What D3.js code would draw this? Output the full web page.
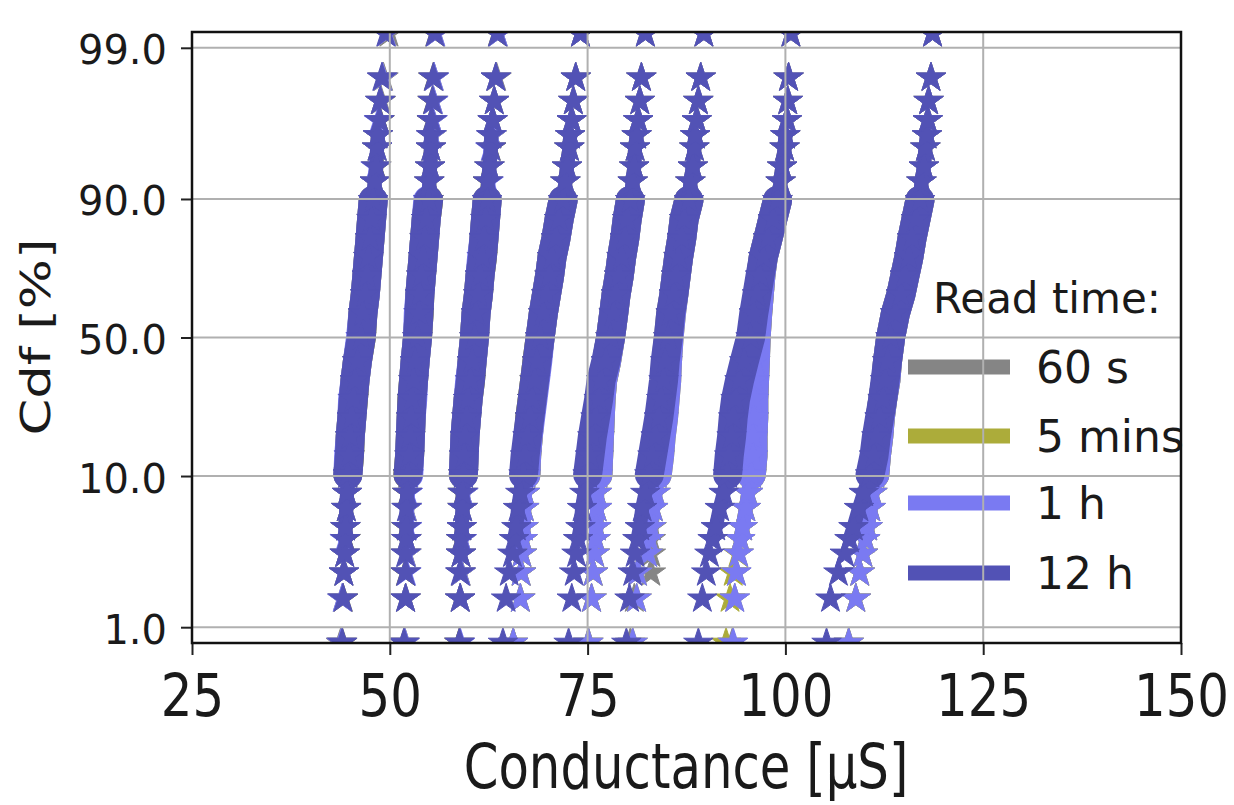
<!DOCTYPE html>
<html>
<head>
<meta charset="utf-8">
<script src="https://cdn.jsdelivr.net/npm/d3@7"></script>
<style>
  html, body { margin: 0; padding: 0; background: #fff; }
  svg text { font-family: "DejaVu Sans", sans-serif; fill: #1a1a1a; }
</style>
</head>
<body>
<div id="chart"></div>
<script>
// cumulative probability levels [%] shared by every state curve
const cdfLevels = [0.78, 1.56, 2.34, 3.13, 3.91, 4.69, 6.25, 7.81, 10.2, 13.3, 17.2, 21.9, 27.3, 33.6, 40.6, 50.0,
  59.4, 66.4, 72.7, 78.1, 82.8, 86.7, 89.8, 92.2, 93.75, 95.3, 96.1, 96.9, 97.7, 98.4, 99.2];

const readTimes = ["60 s", "5 mins", "1 h", "12 h"];
const readColors = ["#858585", "#acac3a", "#7a7af2", "#5252b5"];

// conductance [uS] per programmed state, one value per cdf level
const read60s = [
  [43.8, 44.0, 44.2, 44.3, 44.4, 44.4, 44.5, 44.6, 44.7, 44.9, 45.0, 45.2, 45.4, 45.6, 45.9, 46.4, 46.6, 46.9, 47.1, 47.3, 47.5, 47.7, 47.9, 48.1, 48.3, 48.4, 48.5, 48.7, 48.9, 49.2, 49.9],
  [51.8, 52.0, 52.0, 52.1, 52.1, 52.1, 52.2, 52.2, 52.3, 52.5, 52.6, 52.7, 52.8, 53.0, 53.2, 53.5, 53.7, 53.8, 54.0, 54.2, 54.4, 54.6, 54.9, 55.0, 55.1, 55.2, 55.3, 55.4, 55.5, 55.6, 55.8],
  [58.8, 58.9, 59.0, 59.0, 59.1, 59.1, 59.2, 59.3, 59.3, 59.4, 59.5, 59.7, 59.9, 60.2, 60.4, 60.7, 60.9, 61.2, 61.4, 61.7, 61.9, 62.1, 62.3, 62.4, 62.6, 62.8, 62.9, 63.0, 63.2, 63.5, 63.7],
  [65.6, 66.5, 66.6, 66.7, 66.8, 66.9, 67.0, 67.1, 67.2, 67.3, 67.5, 67.7, 68.0, 68.3, 68.6, 69.0, 69.4, 69.8, 70.2, 70.5, 71.0, 71.4, 71.9, 72.2, 72.4, 72.7, 72.8, 73.0, 73.2, 73.5, 74.1],
  [75.1, 75.5, 75.7, 75.9, 76.0, 76.1, 76.2, 76.2, 76.3, 76.4, 76.5, 76.6, 76.7, 76.9, 77.4, 77.9, 78.3, 78.6, 79.0, 79.3, 79.7, 80.0, 80.4, 80.7, 80.9, 81.0, 81.2, 81.4, 81.6, 81.8, 82.3],
  [80.4, 80.9, 83.0, 83.0, 83.0, 83.1, 83.3, 83.5, 83.7, 84.0, 84.2, 84.4, 84.6, 84.8, 84.9, 85.2, 85.5, 85.9, 86.2, 86.5, 86.9, 87.2, 87.8, 88.0, 88.3, 88.5, 88.6, 88.8, 89.0, 89.3, 89.7],
  [93.3, 93.6, 93.8, 94.1, 94.3, 94.6, 95.0, 95.3, 95.7, 95.9, 95.9, 96.0, 96.0, 96.1, 96.2, 96.3, 96.5, 96.7, 96.9, 97.2, 97.8, 98.4, 99.0, 99.4, 99.6, 99.9, 100.0, 100.2, 100.3, 100.4, 100.7],
  [108.0, 108.9, 109.4, 109.8, 110.1, 110.4, 110.8, 111.0, 111.3, 111.5, 111.8, 112.0, 112.3, 112.7, 112.9, 113.3, 113.9, 114.6, 115.1, 115.6, 116.0, 116.5, 117.0, 117.2, 117.5, 117.7, 117.9, 118.0, 118.1, 118.4, 118.6]
];
const read5min = [
  [44.0, 44.1, 44.2, 44.3, 44.4, 44.4, 44.5, 44.6, 44.7, 44.9, 45.0, 45.2, 45.4, 45.6, 45.9, 46.4, 46.6, 46.9, 47.1, 47.3, 47.5, 47.7, 47.9, 48.1, 48.3, 48.4, 48.5, 48.7, 48.8, 49.1, 49.6],
  [51.9, 52.0, 52.0, 52.1, 52.1, 52.1, 52.2, 52.2, 52.3, 52.5, 52.6, 52.7, 52.8, 53.0, 53.2, 53.5, 53.7, 53.8, 54.0, 54.2, 54.4, 54.6, 54.9, 55.0, 55.1, 55.2, 55.3, 55.3, 55.4, 55.5, 55.7],
  [58.8, 58.9, 59.0, 59.0, 59.0, 59.1, 59.2, 59.2, 59.3, 59.4, 59.5, 59.7, 59.9, 60.2, 60.4, 60.7, 60.9, 61.2, 61.4, 61.7, 61.9, 62.1, 62.3, 62.4, 62.6, 62.8, 62.9, 63.0, 63.2, 63.4, 63.6],
  [65.6, 66.5, 66.6, 66.7, 66.8, 66.9, 67.0, 67.1, 67.2, 67.3, 67.5, 67.7, 68.0, 68.3, 68.6, 69.0, 69.4, 69.8, 70.2, 70.5, 71.0, 71.4, 71.9, 72.2, 72.4, 72.7, 72.8, 73.0, 73.2, 73.5, 74.1],
  [75.1, 75.5, 75.7, 75.9, 76.0, 76.1, 76.2, 76.2, 76.3, 76.4, 76.5, 76.6, 76.7, 76.9, 77.4, 77.9, 78.3, 78.6, 79.0, 79.3, 79.7, 80.0, 80.4, 80.7, 80.9, 81.0, 81.2, 81.4, 81.6, 81.8, 82.3],
  [80.7, 81.2, 81.3, 82.6, 82.8, 83.0, 83.3, 83.6, 83.8, 84.1, 84.3, 84.6, 84.8, 85.0, 85.1, 85.3, 85.6, 85.9, 86.2, 86.5, 86.9, 87.2, 87.8, 88.0, 88.3, 88.5, 88.6, 88.8, 89.0, 89.3, 89.7],
  [92.5, 93.0, 93.4, 94.0, 94.3, 94.6, 95.0, 95.3, 95.7, 95.9, 95.9, 96.0, 96.0, 96.1, 96.2, 96.3, 96.5, 96.7, 96.9, 97.2, 97.8, 98.4, 99.0, 99.4, 99.6, 99.9, 100.0, 100.2, 100.3, 100.4, 100.7],
  [108.0, 108.9, 109.4, 109.8, 110.1, 110.4, 110.8, 111.0, 111.3, 111.5, 111.8, 112.0, 112.3, 112.7, 112.9, 113.3, 113.9, 114.6, 115.1, 115.6, 116.0, 116.5, 117.0, 117.2, 117.5, 117.7, 117.9, 118.0, 118.1, 118.4, 118.6]
];
const read1h = [
  [43.9, 44.0, 44.2, 44.3, 44.3, 44.4, 44.5, 44.6, 44.7, 44.8, 45.0, 45.2, 45.3, 45.6, 45.9, 46.3, 46.6, 46.9, 47.1, 47.3, 47.5, 47.7, 47.9, 48.1, 48.2, 48.4, 48.5, 48.6, 48.8, 49.1, 49.6],
  [51.9, 52.0, 52.1, 52.1, 52.1, 52.2, 52.2, 52.3, 52.4, 52.5, 52.6, 52.7, 52.9, 53.0, 53.2, 53.5, 53.6, 53.8, 54.0, 54.2, 54.4, 54.6, 54.8, 55.0, 55.1, 55.2, 55.3, 55.4, 55.5, 55.6, 55.8],
  [58.9, 58.9, 59.0, 59.0, 59.1, 59.1, 59.2, 59.3, 59.3, 59.4, 59.5, 59.7, 59.9, 60.1, 60.4, 60.7, 60.9, 61.2, 61.4, 61.6, 61.9, 62.1, 62.3, 62.5, 62.6, 62.7, 62.9, 63.0, 63.2, 63.4, 63.7],
  [65.6, 66.5, 66.6, 66.7, 66.8, 66.9, 67.0, 67.1, 67.2, 67.3, 67.5, 67.8, 68.1, 68.4, 68.7, 69.0, 69.4, 69.8, 70.2, 70.5, 71.0, 71.4, 71.9, 72.2, 72.4, 72.7, 72.8, 73.0, 73.2, 73.5, 74.1],
  [75.1, 75.5, 75.7, 75.9, 76.0, 76.1, 76.2, 76.2, 76.3, 76.4, 76.5, 76.6, 76.7, 76.9, 77.4, 77.9, 78.3, 78.6, 79.0, 79.3, 79.7, 80.0, 80.4, 80.7, 80.9, 81.0, 81.2, 81.4, 81.6, 81.8, 82.3],
  [80.7, 81.2, 81.3, 82.6, 82.8, 83.0, 83.3, 83.6, 83.8, 84.1, 84.3, 84.6, 84.8, 85.0, 85.1, 85.3, 85.6, 85.9, 86.2, 86.5, 86.9, 87.2, 87.8, 88.0, 88.3, 88.5, 88.6, 88.8, 89.0, 89.3, 89.7],
  [93.4, 93.6, 93.8, 94.1, 94.3, 94.6, 95.0, 95.3, 95.7, 95.9, 95.9, 96.0, 96.0, 96.1, 96.2, 96.3, 96.5, 96.7, 96.9, 97.2, 97.8, 98.4, 99.0, 99.4, 99.6, 99.9, 100.0, 100.2, 100.3, 100.4, 100.7],
  [108.0, 108.9, 109.4, 109.8, 110.1, 110.4, 110.8, 111.0, 111.3, 111.5, 111.8, 112.0, 112.3, 112.7, 112.9, 113.3, 113.9, 114.6, 115.1, 115.6, 116.0, 116.5, 117.0, 117.2, 117.5, 117.7, 117.9, 118.0, 118.1, 118.4, 118.6]
];
const read12h = [
  [44.0, 44.1, 44.2, 44.3, 44.4, 44.4, 44.5, 44.6, 44.7, 44.9, 45.0, 45.2, 45.4, 45.6, 45.9, 46.4, 46.6, 46.9, 47.1, 47.3, 47.5, 47.7, 47.9, 48.1, 48.3, 48.4, 48.5, 48.7, 48.8, 49.0, 49.5],
  [51.8, 52.0, 52.0, 52.0, 52.1, 52.1, 52.1, 52.2, 52.3, 52.5, 52.6, 52.7, 52.8, 53.0, 53.2, 53.5, 53.7, 53.8, 54.0, 54.2, 54.4, 54.6, 54.9, 55.0, 55.1, 55.2, 55.2, 55.3, 55.4, 55.5, 55.7],
  [58.8, 58.9, 58.9, 59.0, 59.0, 59.1, 59.2, 59.2, 59.3, 59.4, 59.5, 59.7, 59.9, 60.2, 60.4, 60.7, 60.9, 61.2, 61.4, 61.7, 61.9, 62.1, 62.3, 62.4, 62.6, 62.8, 62.8, 63.0, 63.2, 63.4, 63.6],
  [64.3, 64.7, 65.1, 65.5, 65.7, 66.0, 66.2, 66.5, 66.9, 67.1, 67.4, 67.7, 68.0, 68.3, 68.6, 69.0, 69.4, 69.8, 70.2, 70.5, 71.0, 71.4, 71.9, 72.2, 72.4, 72.7, 72.8, 73.0, 73.2, 73.5, 74.1],
  [72.6, 73.0, 73.3, 73.6, 73.8, 74.1, 74.3, 74.6, 75.0, 75.3, 75.6, 76.0, 76.4, 76.7, 77.3, 77.9, 78.3, 78.6, 79.0, 79.3, 79.7, 80.0, 80.4, 80.7, 80.9, 81.0, 81.2, 81.4, 81.6, 81.8, 82.3],
  [79.9, 80.3, 80.7, 81.0, 81.3, 81.6, 81.9, 82.3, 82.8, 83.2, 83.6, 84.0, 84.3, 84.6, 84.8, 85.2, 85.5, 85.9, 86.2, 86.5, 86.9, 87.2, 87.8, 88.0, 88.3, 88.5, 88.6, 88.8, 89.0, 89.3, 89.7],
  [89.0, 89.5, 90.0, 90.4, 90.8, 91.2, 91.7, 92.2, 92.7, 92.9, 93.2, 93.4, 93.7, 94.2, 94.8, 95.6, 96.0, 96.4, 96.8, 97.2, 97.8, 98.4, 99.0, 99.4, 99.6, 99.9, 100.0, 100.2, 100.3, 100.4, 100.7],
  [105.2, 105.7, 106.7, 107.5, 108.1, 108.6, 109.3, 109.9, 110.7, 111.2, 111.5, 111.9, 112.3, 112.6, 112.9, 113.3, 113.9, 114.6, 115.1, 115.6, 116.0, 116.5, 117.0, 117.2, 117.5, 117.7, 117.9, 118.0, 118.1, 118.4, 118.6]
];

const xTicks = [25, 50, 75, 100, 125, 150];
const yTicks = [1, 10, 50, 90, 99];
const yLimits = [0.78, 99.22];

const allReads = [read60s, read5min, read1h, read12h];

const width = 1234;
const height = 805;
const plotL = 192, plotR = 1181, plotT = 32, plotB = 643;

const logit = p => Math.log(p / (100 - p));

const svg = d3.select("#chart")
    .append("svg")
    .attr("width", width)
    .attr("height", height);

svg.append("rect").attr("width", width).attr("height", height).attr("fill", "#fff");

const x = d3.scaleLinear().domain([25, 150]).range([plotL, plotR]);
const y = d3.scaleLinear().domain([logit(yLimits[0]), logit(yLimits[1])]).range([plotB, plotT]);

svg.append("clipPath")
    .attr("id", "plotClip")
    .append("rect")
    .attr("x", plotL).attr("y", plotT)
    .attr("width", plotR - plotL).attr("height", plotB - plotT);

const plot = svg.append("g").attr("clip-path", "url(#plotClip)");

const star = d3.symbol().type(d3.symbolStar).size(270);

const band = d3.line()
    .x(d => x(d.g))
    .y(d => y(logit(d.p)));

allReads.forEach((states, s) => {
    const color = readColors[s];
    const layer = plot.append("g").attr("class", "read-" + s);

    states.forEach(vals => {
        const pts = cdfLevels.map((p, i) => ({ p: p, g: vals[i] }));

        // thin core through the upper and lower shoulders
        layer.append("path")
            .datum(pts.filter(d => d.p > 3.5 && d.p < 96.5))
            .attr("d", band)
            .attr("fill", "none")
            .attr("stroke", color)
            .attr("stroke-width", 14)
            .attr("stroke-linejoin", "round")
            .attr("stroke-linecap", "round");

        // the dense middle of each curve reads as a solid band
        layer.append("path")
            .datum(pts.filter(d => d.p > 9 && d.p < 91))
            .attr("d", band)
            .attr("fill", "none")
            .attr("stroke", color)
            .attr("stroke-width", 29)
            .attr("stroke-linejoin", "round")
            .attr("stroke-linecap", "round");

        layer.selectAll(null)
            .data(pts)
            .enter()
            .append("path")
            .attr("d", star)
            .attr("transform", d => `translate(${x(d.g)},${y(logit(d.p))})`)
            .attr("fill", color)
            .attr("stroke", color)
            .attr("stroke-width", 1);
    });
});

// legend (no frame)
const legend = svg.append("g");
legend.append("text")
    .attr("x", 933).attr("y", 313)
    .style("font-size", "42px")
    .text("Read time:");

const legendY = [367, 436, 503, 573];
readTimes.forEach((name, i) => {
    legend.append("line")
        .attr("x1", 908).attr("x2", 1010)
        .attr("y1", legendY[i]).attr("y2", legendY[i])
        .attr("stroke", readColors[i])
        .attr("stroke-width", 15);
    legend.append("text")
        .attr("x", 1036).attr("y", legendY[i] + 16)
        .style("font-size", "44px")
        .text(name);
});

// grid sits above the markers
const grid = svg.append("g").attr("stroke", "#b0b0b0").attr("stroke-width", 2);
grid.selectAll(".gx")
    .data(xTicks.slice(1, -1))
    .enter().append("line")
    .attr("x1", d => x(d)).attr("x2", d => x(d))
    .attr("y1", plotT).attr("y2", plotB);
grid.selectAll(".gy")
    .data(yTicks)
    .enter().append("line")
    .attr("x1", plotL).attr("x2", plotR)
    .attr("y1", d => y(logit(d))).attr("y2", d => y(logit(d)));

// axes
const xAxis = svg.append("g")
    .attr("transform", `translate(0,${plotB})`)
    .call(d3.axisBottom(x).tickValues(xTicks).tickSize(12).tickSizeOuter(0));
xAxis.select(".domain").remove();
xAxis.selectAll(".tick line").attr("stroke", "#222").attr("stroke-width", 2);
xAxis.selectAll(".tick text")
    .attr("y", 73).attr("dy", 0)
    .attr("transform", "scale(0.86,1)")
    .style("font-size", "58px")
    .style("font-family", "DejaVu Sans")
    .attr("fill", "#1a1a1a");

const yAxis = svg.append("g")
    .attr("transform", `translate(${plotL},0)`)
    .call(d3.axisLeft(y)
        .tickValues(yTicks.map(logit))
        .tickFormat((d, i) => yTicks[i].toFixed(1))
        .tickSize(11).tickPadding(14).tickSizeOuter(0));
yAxis.select(".domain").remove();
yAxis.selectAll(".tick line").attr("stroke", "#222").attr("stroke-width", 2);
yAxis.selectAll(".tick text")
    .attr("dy", 16)
    .style("font-size", "40px")
    .style("font-family", "DejaVu Sans")
    .attr("fill", "#1a1a1a");

// frame
svg.append("rect")
    .attr("x", plotL).attr("y", plotT)
    .attr("width", plotR - plotL).attr("height", plotB - plotT)
    .attr("fill", "none")
    .attr("stroke", "#111")
    .attr("stroke-width", 2.5);

// axis titles
svg.append("text")
    .attr("transform", "translate(686,788) scale(0.79,1)")
    .attr("text-anchor", "middle")
    .style("font-size", "63px")
    .text("Conductance [µS]");

svg.append("text")
    .attr("transform", "translate(50,337) rotate(-90) scale(1.32,1)")
    .attr("text-anchor", "middle")
    .style("font-size", "40px")
    .text("Cdf [%]");
</script>
</body>
</html>
